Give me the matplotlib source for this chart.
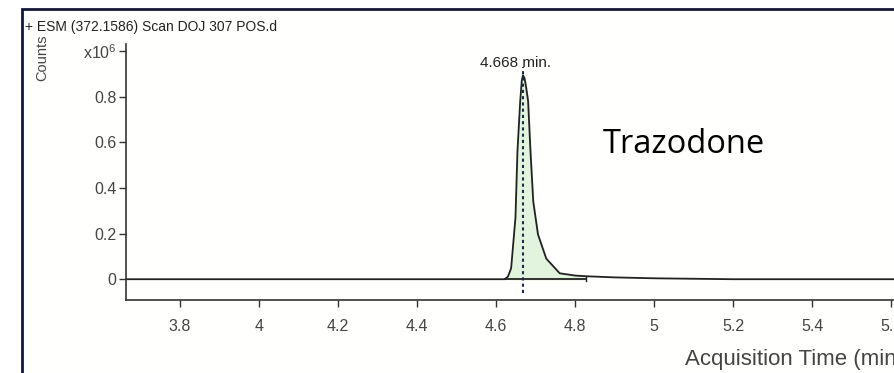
import matplotlib
matplotlib.use('Agg')
import matplotlib.pyplot as plt
from matplotlib.patches import Rectangle
import numpy as np

plt.rcParams['font.family'] = ['Liberation Sans', 'DejaVu Sans']
plt.rcParams['mathtext.default'] = 'regular'

# chromatogram trace (time in min, counts x10^6)
time = np.array([3.663, 4.600, 4.622, 4.630, 4.638, 4.649, 4.654, 4.661, 4.665, 4.668,
                 4.672, 4.676, 4.681, 4.687, 4.694, 4.706, 4.727, 4.761, 4.800,
                 4.828, 4.900, 5.000, 5.100, 5.200, 5.800])
counts = np.array([0.0, 0.0, 0.0, 0.012, 0.048, 0.270, 0.560, 0.780, 0.870, 0.893,
                   0.880, 0.840, 0.780, 0.560, 0.340, 0.196, 0.090, 0.026, 0.016,
                   0.013, 0.008, 0.004, 0.002, 0.0, 0.0])

peak_time = 4.668
integ_start, integ_end = 4.622, 4.828
xticks = [3.8, 4.0, 4.2, 4.4, 4.6, 4.8, 5.0, 5.2, 5.4, 5.6]
xtick_labels = ['3.8', '4', '4.2', '4.4', '4.6', '4.8', '5', '5.2', '5.4', '5.6']
yticks = [0, 0.2, 0.4, 0.6, 0.8, 1.0]
ytick_labels = ['0', '0.2', '0.4', '0.6', '0.8', 'x10$^{6}$']

W, H = 894, 373
fig = plt.figure(figsize=(W / 100, H / 100), dpi=100)

# outer window frame
frame = Rectangle((22 / W, -0.1), 1.2, (H - 9) / H + 0.1, transform=fig.transFigure,
                  facecolor='#fffffd', edgecolor='#15153a', linewidth=2, zorder=-5)
fig.patches.append(frame)

xmin, xmax = 3.663, 5.8
ymin, ymax = -0.091, 1.03
px_per_min = 395
ax = fig.add_axes([126 / W, 73 / H, (xmax - xmin) * px_per_min / W, 256 / H])
ax.set_facecolor('none')
ax.set_zorder(2)

ax.plot(time, counts, color='#222222', linewidth=1.3)
mask = (time >= integ_start) & (time <= integ_end)
ax.fill_between(time[mask], counts[mask], 0, color='#e2f3de', zorder=1)
ax.plot([integ_start, integ_end], [0, 0], color='#222222', linewidth=1.3)
ax.plot([integ_end, integ_end], [-0.006, 0.012], color='#222222', linewidth=1.0)
ax.plot([peak_time, peak_time], [-0.06, 0.93], color='#1c2d4a', linestyle=(0, (1.5, 1.5)), linewidth=1.5)
ax.text(peak_time - 0.02, 0.945, '4.668 min.', ha='center', va='center', fontsize=11, color='#222222')
ax.text(4.87, 0.59, 'Trazodone', fontsize=23.5, family=['Open Sans', 'DejaVu Sans'], ha='left', va='center')

ax.set_xlim(xmin, xmax)
ax.set_ylim(ymin, ymax)
ax.set_xticks(xticks)
ax.set_xticklabels(xtick_labels)
ax.set_yticks(yticks)
ax.set_yticklabels(ytick_labels)
ax.tick_params(axis='both', direction='out', length=5, width=1, color='#333333',
               labelsize=11.5, labelcolor='#444444', pad=2)
ax.tick_params(axis='x', pad=9)
for s in ['top', 'right']:
    ax.spines[s].set_visible(False)
for s in ['left', 'bottom']:
    ax.spines[s].set_color('#333333')
    ax.spines[s].set_linewidth(1.2)

fig.text(25 / W, 1 - 27 / H, '+ ESM (372.1586) Scan DOJ 307 POS.d', fontsize=10, color='#222222',
         ha='left', va='center')
fig.text(42 / W, 1 - 58 / H, 'Counts', rotation=90, fontsize=10.5, color='#444444',
         ha='center', va='center')
fig.text(685 / W, 1 - 360 / H, 'Acquisition Time (min)', fontsize=16, color='#444444',
         ha='left', va='center')

fig.savefig('out.png', dpi=100)
